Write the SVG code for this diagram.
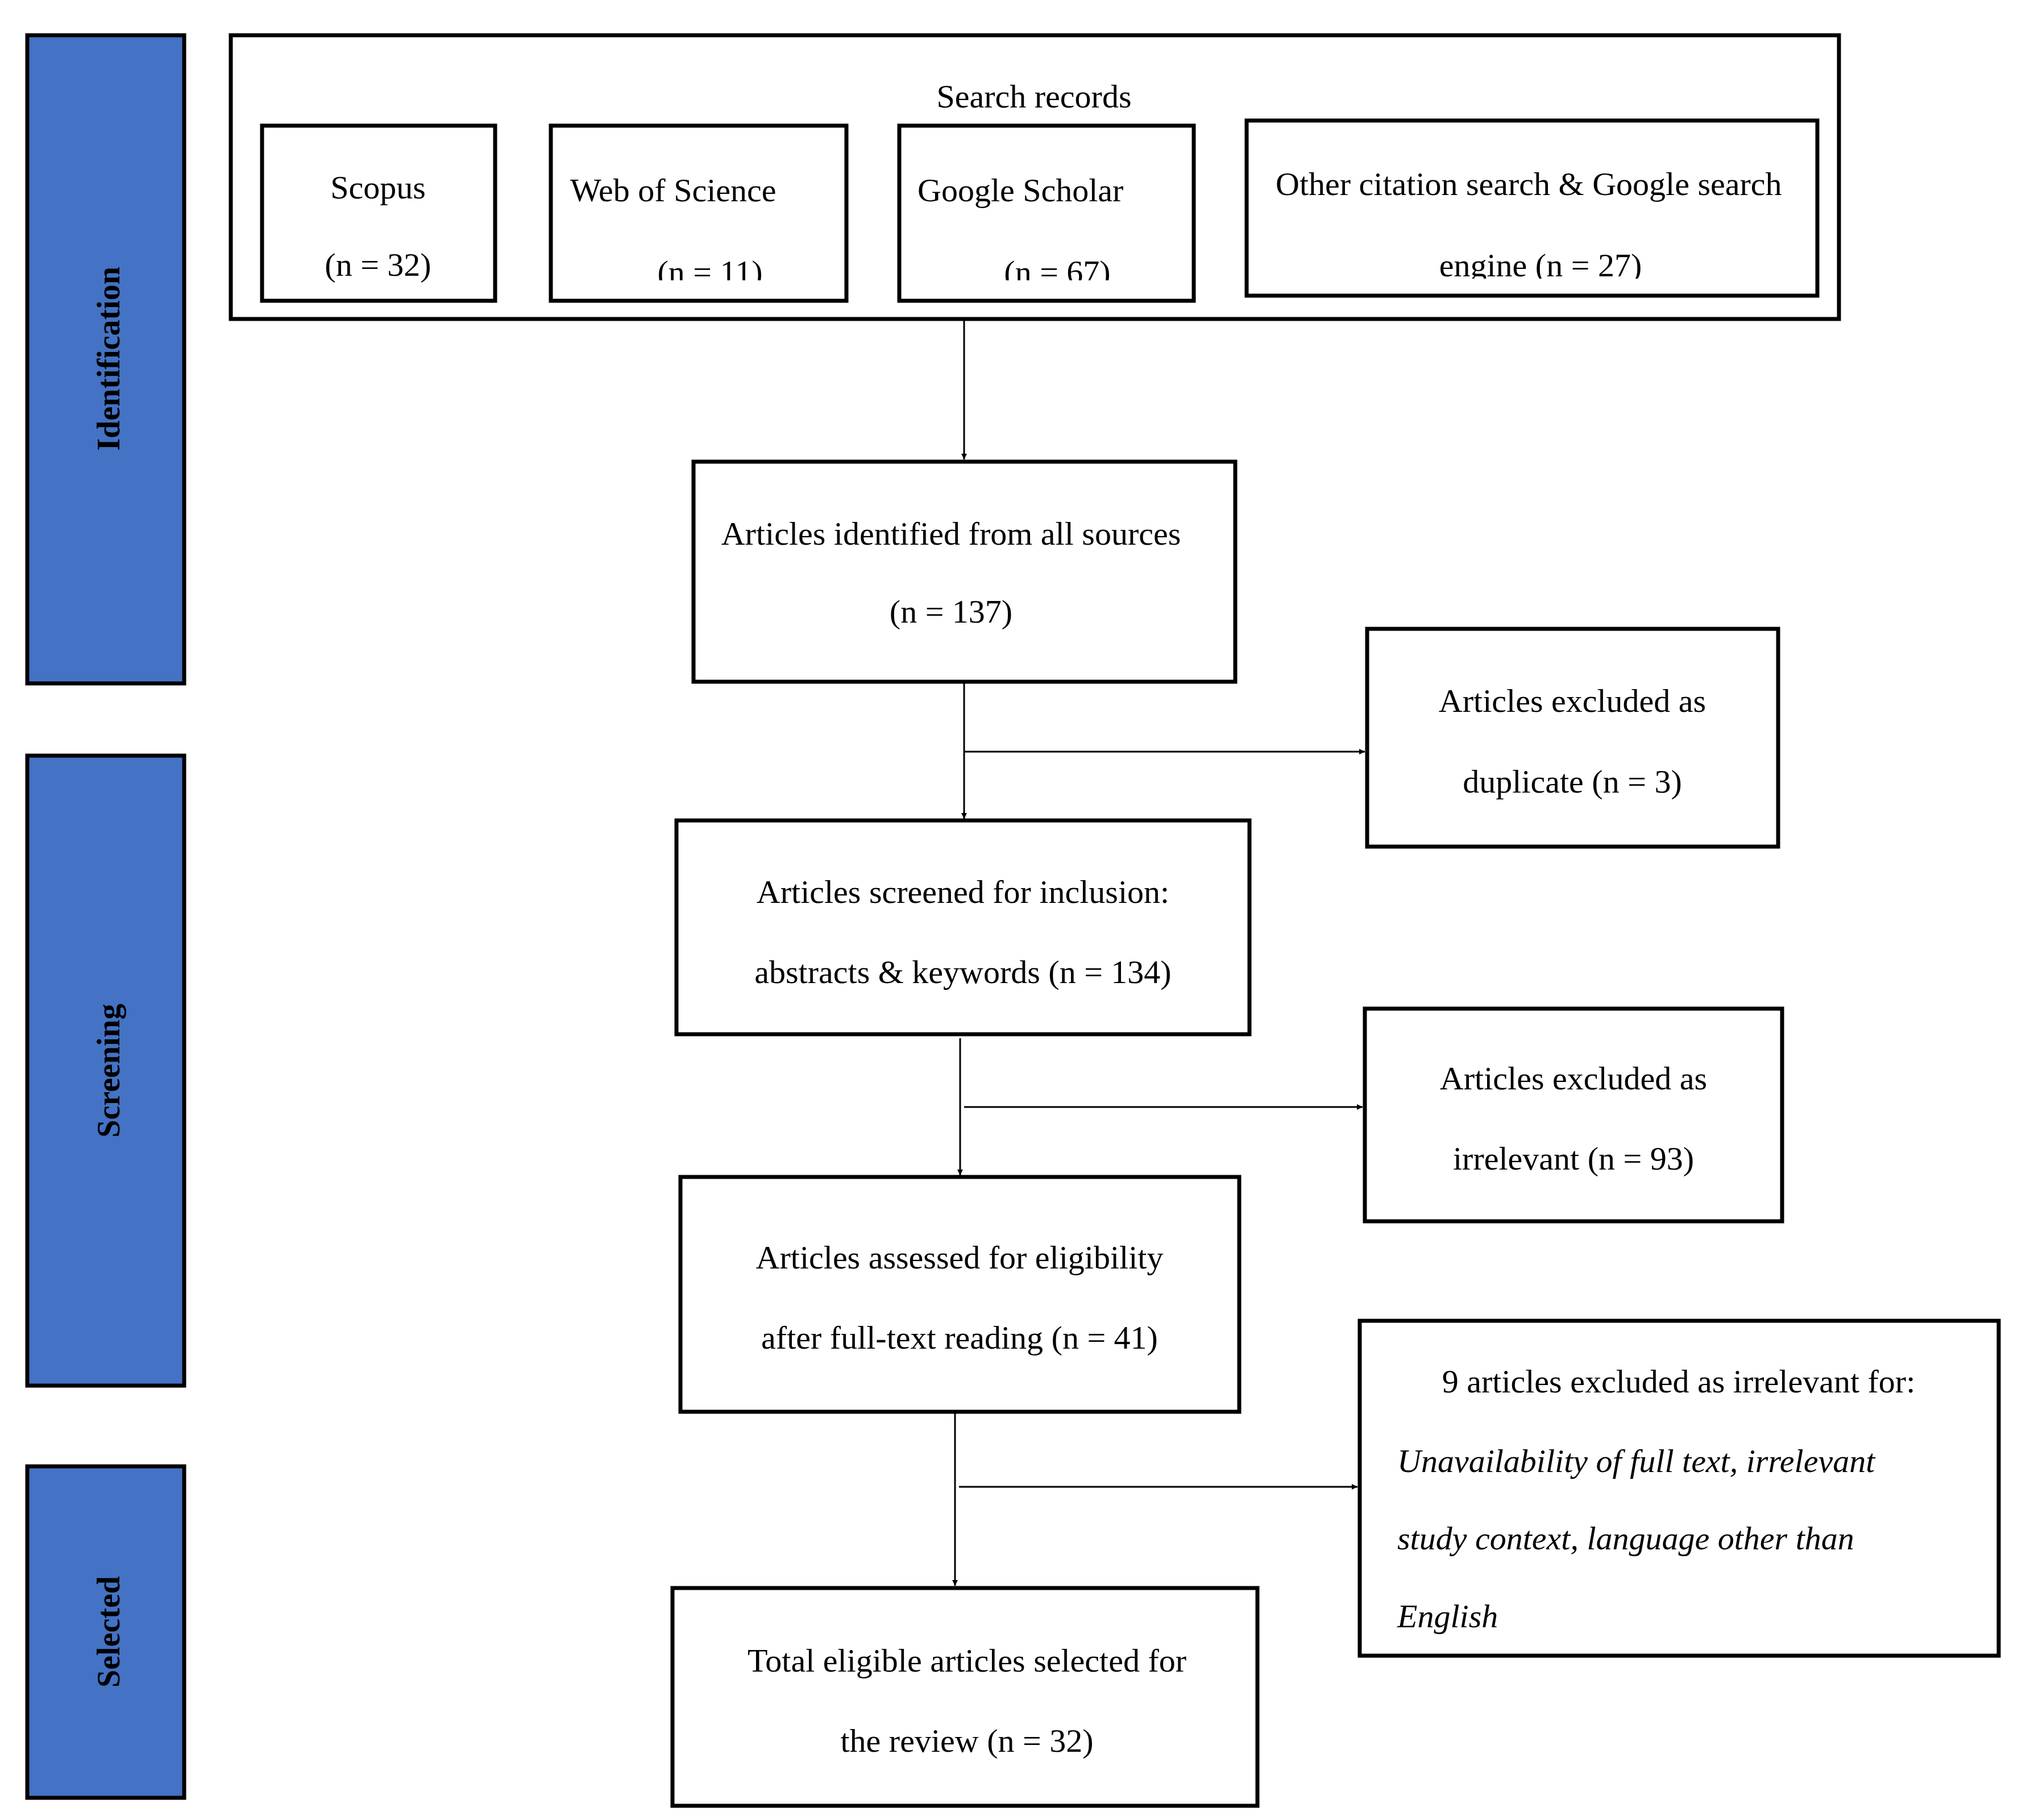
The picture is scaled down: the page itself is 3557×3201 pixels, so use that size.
<svg xmlns="http://www.w3.org/2000/svg" width="3557" height="3201" viewBox="0 0 3557 3201">
<style>
.b{fill:#fff;stroke:#000;stroke-width:7}
.p{fill:#4472c4;stroke:#000;stroke-width:7}
.t{font-family:"Liberation Serif","Times New Roman",serif;font-size:58px;fill:#000}
.m{text-anchor:middle}
.i{font-style:italic}
.ph{font-family:"Liberation Serif","Times New Roman",serif;font-size:56px;font-weight:bold;text-anchor:middle;fill:#000}
.c{stroke:#000;stroke-width:3;fill:none}
</style>
<defs>
<marker id="ah" markerWidth="10" markerHeight="10" refX="10" refY="5" orient="auto" markerUnits="userSpaceOnUse" viewBox="0 0 10 10">
<path d="M0,0 L10,5 L0,10 z" fill="#000"/>
</marker>
<clipPath id="cw"><rect x="969" y="221" width="517" height="272"/></clipPath>
<clipPath id="cg"><rect x="1582" y="221" width="515" height="272"/></clipPath>
<clipPath id="co"><rect x="2193" y="212" width="1000" height="278"/></clipPath>
</defs>
<g id="phase-identification"><rect class="p" x="48" y="62" width="276" height="1140"/><text class="ph" transform="translate(210,631) rotate(-90)">Identification</text></g>
<g id="phase-screening"><rect class="p" x="48" y="1329" width="276" height="1108"/><text class="ph" transform="translate(210,1883) rotate(-90)">Screening</text></g>
<g id="phase-selected"><rect class="p" x="48" y="2579" width="276" height="583"/><text class="ph" transform="translate(210,2870) rotate(-90)">Selected</text></g>
<g id="search-records"><rect class="b" x="406" y="62" width="2829" height="499"/><text class="t m" x="1819" y="189">Search records</text></g>
<g id="scopus"><rect class="b" x="461" y="221" width="410" height="308"/><text class="t m" x="665" y="349">Scopus</text><text class="t m" x="665" y="485">(n = 32)</text></g>
<g id="wos"><rect class="b" x="969" y="221" width="520" height="308"/><g clip-path="url(#cw)"><text class="t" x="1003" y="354">Web of Science</text><text class="t m" x="1249" y="498">(n = 11)</text></g></g>
<g id="gs"><rect class="b" x="1582" y="221" width="518" height="308"/><g clip-path="url(#cg)"><text class="t" x="1614" y="354">Google Scholar</text><text class="t m" x="1860" y="498">(n = 67)</text></g></g>
<g id="other"><rect class="b" x="2193" y="212" width="1004" height="308"/><g clip-path="url(#co)"><text class="t" x="2244" y="343">Other citation search &amp; Google search</text><text class="t m" x="2710" y="486">engine (n = 27)</text></g></g>
<g id="identified"><rect class="b" x="1220" y="812" width="953" height="387"/><text class="t m" x="1673" y="958">Articles identified from all sources</text><text class="t m" x="1673" y="1095">(n = 137)</text></g>
<g id="duplicate"><rect class="b" x="2405" y="1106" width="723" height="383"/><text class="t m" x="2766" y="1252">Articles excluded as</text><text class="t m" x="2766" y="1394">duplicate (n = 3)</text></g>
<g id="screened"><rect class="b" x="1190" y="1443" width="1008" height="376"/><text class="t m" x="1694" y="1588">Articles screened for inclusion:</text><text class="t m" x="1694" y="1729">abstracts &amp; keywords (n = 134)</text></g>
<g id="irrelevant"><rect class="b" x="2401" y="1774" width="734" height="374"/><text class="t m" x="2768" y="1916">Articles excluded as</text><text class="t m" x="2768" y="2057">irrelevant (n = 93)</text></g>
<g id="assessed"><rect class="b" x="1197" y="2070" width="983" height="413"/><text class="t m" x="1688" y="2231">Articles assessed for eligibility</text><text class="t m" x="1688" y="2372">after full-text reading (n = 41)</text></g>
<g id="excluded9"><rect class="b" x="2392" y="2323" width="1124" height="589"/><text class="t m" x="2953" y="2449">9 articles excluded as irrelevant for:</text><text class="t i" x="2458" y="2589">Unavailability of full text, irrelevant</text><text class="t i" x="2458" y="2725">study context, language other than</text><text class="t i" x="2458" y="2862">English</text></g>
<g id="total"><rect class="b" x="1183" y="2793" width="1029" height="383"/><text class="t m" x="1701" y="2940">Total eligible articles selected for</text><text class="t m" x="1701" y="3081">the review (n = 32)</text></g>
<g id="connectors">
<line class="c" x1="1696" y1="564" x2="1696" y2="808" marker-end="url(#ah)"/>
<line class="c" x1="1696" y1="1202" x2="1696" y2="1440" marker-end="url(#ah)"/>
<line class="c" x1="1696" y1="1322" x2="2401" y2="1322" marker-end="url(#ah)"/>
<line class="c" x1="1689" y1="1826" x2="1689" y2="2067" marker-end="url(#ah)"/>
<line class="c" x1="1696" y1="1947" x2="2397" y2="1947" marker-end="url(#ah)"/>
<line class="c" x1="1680" y1="2486" x2="1680" y2="2789" marker-end="url(#ah)"/>
<line class="c" x1="1687" y1="2615" x2="2388" y2="2615" marker-end="url(#ah)"/>
</g>
<style>#connectors marker path{}</style>
</svg>
